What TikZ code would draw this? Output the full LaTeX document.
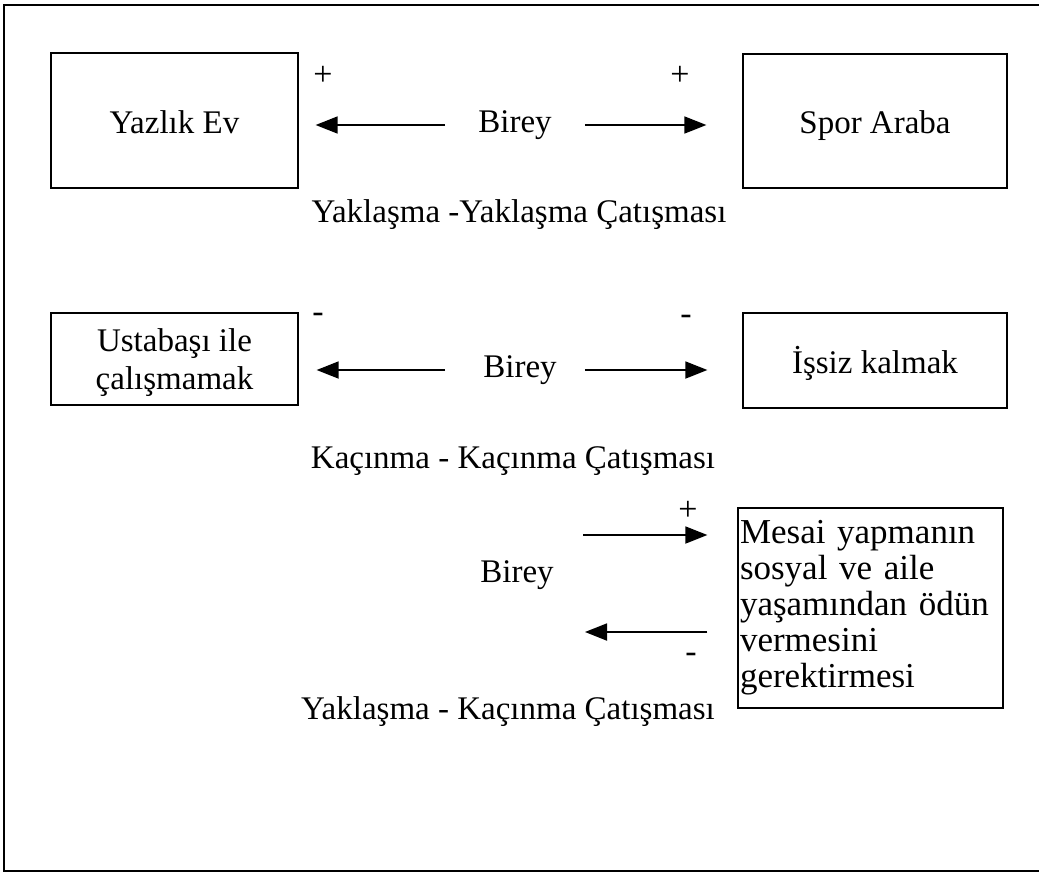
\documentclass[tikz,border=0pt]{standalone}
\usepackage{fontspec}
\setmainfont{Liberation Serif}
\usetikzlibrary{arrows.meta}
\begin{document}
\begin{tikzpicture}[x=1pt,y=-1pt,
  txt/.style={inner sep=0pt, font=\fontsize{33}{38}\selectfont},
  sign/.style={inner sep=0pt, font=\fontsize{34}{38}\selectfont},
  boxnode/.style={draw, line width=1.3pt, inner sep=0pt, align=center,
                  font=\fontsize{33}{38}\selectfont},
  oneline/.style={text height=30pt, text depth=5pt},
  arr/.style={line width=1.8pt, -{Triangle[length=22pt,width=17pt]}},
  frame/.style={line width=2pt}]
\useasboundingbox (0,0) rectangle (1039,873);

% open frame: top, left and bottom edges
\draw[frame] (1039,5) -- (4,5) -- (4,871) -- (1039,871);

% --- approach / approach ---
\node[boxnode, oneline, minimum width=247pt, minimum height=135pt] (A) at (174.5,120.5) {Yazlık Ev};
\node[boxnode, oneline, minimum width=264pt, minimum height=134pt] (B) at (875,121) {Spor Araba};
\node[txt] (b1) at (515,125) {Birey};
\node[sign] (p1) at (323,76) {+};
\node[sign] (p2) at (680,76) {+};
\draw[arr, shorten <=33pt, shorten >=17pt] (b1.west) -- (A.east |- b1.west);
\draw[arr, shorten <=33pt, shorten >=36pt] (b1.east) -- (B.west |- b1.east);
\node[txt] (t1) at (519,215) {Yaklaşma -Yaklaşma Çatışması};

% --- avoidance / avoidance ---
\node[boxnode, minimum width=247pt, minimum height=92pt] (C) at (174.5,359) {\rule{0pt}{31pt}Ustabaşı ile\\çalışmamak};
\node[boxnode, oneline, minimum width=264pt, minimum height=95pt] (D) at (875,360.5) {İşsiz kalmak};
\node[txt] (b2) at (520,370) {Birey};
\node[sign] (m1) at (318,318) {-};
\node[sign] (m2) at (686,320) {-};
\draw[arr, shorten <=38pt, shorten >=18pt] (b2.west) -- (C.east |- b2.west);
\draw[arr, shorten <=28pt, shorten >=35pt] (b2.east) -- (D.west |- b2.east);
\node[txt] (t2) at (513,461) {Kaçınma - Kaçınma Çatışması};

% --- approach / avoidance ---
\node[draw, line width=1.3pt, inner xsep=2pt, inner ysep=0pt, align=left,
      text width=261pt, minimum height=200pt,
      font=\fontsize{35}{36}\selectfont] (E) at (870.5,608)
  {Mesai yapmanın\\sosyal ve aile\\yaşamından ödün\\vermesini\\gerektirmesi};
\node[txt] (b3) at (517,575) {Birey};
\coordinate (q1) at (583,535);
\coordinate (q2) at (585,632);
\draw[arr, shorten >=30pt] (q1) -- (E.west |- q1);
\draw[arr, shorten <=30pt] (E.west |- q2) -- (q2);
\node[sign] (p3) at (688,511) {+};
\node[sign] (m3) at (691,658) {-};
\node[txt] (t3) at (508,712) {Yaklaşma - Kaçınma Çatışması};
\end{tikzpicture}
\end{document}
